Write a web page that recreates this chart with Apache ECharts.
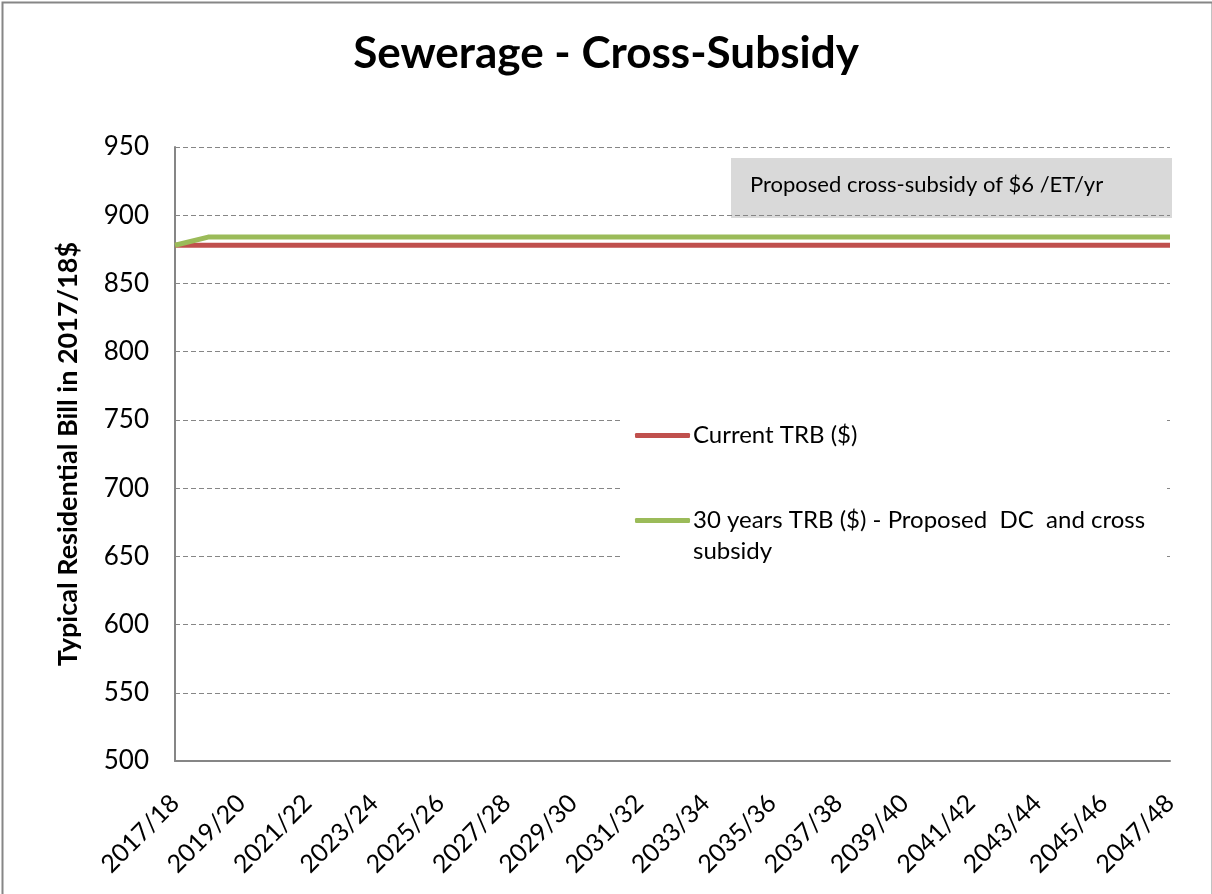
<!DOCTYPE html>
<html>
<head>
<meta charset="utf-8">
<script src="https://cdn.jsdelivr.net/npm/echarts@6/dist/echarts.min.js"></script>
<style>
  html, body { margin: 0; padding: 0; background: #fff; }
</style>
</head>
<body>
<div id="main" style="width: 1212px;height:894px;"></div>
<script>
// financial years 2017/18 .. 2047/48
const years = [
  '2017/18', '2018/19', '2019/20', '2020/21', '2021/22', '2022/23', '2023/24', '2024/25',
  '2025/26', '2026/27', '2027/28', '2028/29', '2029/30', '2030/31', '2031/32', '2032/33',
  '2033/34', '2034/35', '2035/36', '2036/37', '2037/38', '2038/39', '2039/40', '2040/41',
  '2041/42', '2042/43', '2043/44', '2044/45', '2045/46', '2046/47', '2047/48'
]
const currentTRB = [
  878, 878, 878, 878, 878, 878, 878, 878, 878, 878, 878, 878, 878, 878, 878, 878,
  878, 878, 878, 878, 878, 878, 878, 878, 878, 878, 878, 878, 878, 878, 878
]
const proposedTRB = [
  878, 884, 884, 884, 884, 884, 884, 884, 884, 884, 884, 884, 884, 884, 884, 884,
  884, 884, 884, 884, 884, 884, 884, 884, 884, 884, 884, 884, 884, 884, 884
]
const seriesNames = ['Current TRB ($)', '30 years TRB ($) - Proposed  DC  and cross subsidy']
const noteText = 'Proposed cross-subsidy of $6 /ET/yr'

const font = 'Lato, "Open Sans", sans-serif'
const gray = '#868686'

const option = {
  animation: false,
  textStyle: { fontFamily: font },
  title: {
    text: 'Sewerage - Cross-Subsidy',
    left: 'center',
    top: 27,
    textStyle: { fontSize: 44, fontWeight: 'bold', color: '#000', fontFamily: font }
  },
  grid: { left: 175, right: 42, top: 147, bottom: 133 },
  legend: {
    orient: 'vertical',
    left: 620,
    top: 400,
    width: 550,
    backgroundColor: '#fff',
    padding: [20, 20, 20, 15],
    itemWidth: 55,
    itemHeight: 5,
    itemGap: 23,
    icon: 'roundRect',
    data: seriesNames,
    // long label wraps; the blank first line keeps the icon beside the first text line
    formatter: function (name) {
      return name === seriesNames[1] ? ' \n30 years TRB ($) - Proposed  DC  and cross\nsubsidy' : name
    },
    textStyle: { fontSize: 24, color: '#000', lineHeight: 31, padding: [0, 0, 0, -2] },
    zlevel: 1
  },
  xAxis: {
    type: 'category',
    data: years,
    boundaryGap: false,
    axisLine: { lineStyle: { color: gray, width: 2 } },
    axisTick: { show: false },
    axisLabel: { interval: 1, rotate: 45, fontSize: 25, color: '#000', margin: 38 }
  },
  yAxis: {
    type: 'value',
    min: 500,
    max: 950,
    interval: 50,
    name: 'Typical Residential Bill in 2017/18$',
    nameLocation: 'middle',
    nameGap: 93,
    nameTextStyle: { fontSize: 27, fontWeight: 'bold', color: '#000' },
    axisLine: { show: true, lineStyle: { color: gray, width: 2 } },
    axisTick: { show: false },
    axisLabel: { fontSize: 26, color: '#000', margin: 26 },
    splitLine: { lineStyle: { color: gray, type: [5, 3], width: 1 } }
  },
  graphic: [
    {
      type: 'rect',
      left: 0,
      top: 0,
      shape: { x: 1, y: 1, width: 1210, height: 900 },
      style: { fill: 'none', stroke: gray, lineWidth: 2 },
      silent: true
    },
    {
      type: 'group',
      left: 731,
      top: 158,
      z: 100,
      children: [
        { type: 'rect', shape: { width: 441, height: 60 }, style: { fill: '#d9d9d9' } },
        {
          type: 'text',
          left: 19,
          top: 16,
          style: { text: noteText, fontSize: 22, fontFamily: font, fill: '#000' }
        }
      ]
    }
  ],
  series: [
    {
      name: seriesNames[0],
      type: 'line',
      data: currentTRB,
      showSymbol: false,
      color: '#c0504d',
      lineStyle: { width: 5, color: '#c0504d' }
    },
    {
      name: seriesNames[1],
      type: 'line',
      data: proposedTRB,
      showSymbol: false,
      color: '#9bbb59',
      lineStyle: { width: 5, color: '#9bbb59' }
    }
  ]
}

const myChart = echarts.init(document.getElementById('main'))
myChart.setOption(option)
</script>
</body>
</html>
